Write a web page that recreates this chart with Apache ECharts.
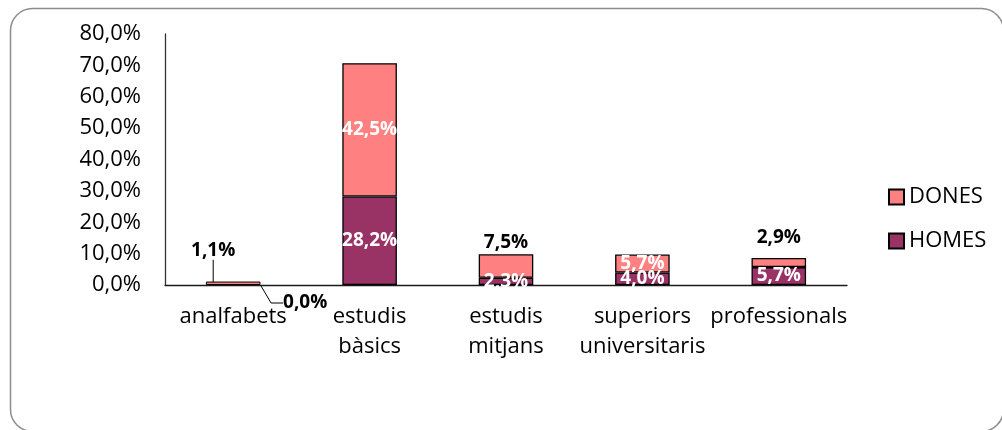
<!DOCTYPE html>
<html>
<head>
<meta charset="utf-8">
<script src="https://cdn.jsdelivr.net/npm/echarts@6/dist/echarts.min.js"></script>
<style>
html,body{margin:0;padding:0;background:#fff;}
#chart{width:1002px;height:430px;}
</style>
</head>
<body>
<div id="chart"></div>
<script>
var categories = ['analfabets', 'estudis\nbàsics', 'estudis\nmitjans', 'superiors\nuniversitaris', 'professionals'];
var homes = [0.0, 28.2, 2.3, 4.0, 5.7];
var dones = [1.1, 42.5, 7.5, 5.7, 2.9];
var yTicks = [0, 10, 20, 30, 40, 50, 60, 70, 80];
var seriesNames = ['HOMES', 'DONES'];

var FONT = '"Open Sans", sans-serif';
function pct(v) { return v.toFixed(1).replace('.', ',') + '%'; }

var chart = echarts.init(document.getElementById('chart'), null, {renderer: 'canvas'});

function labelFor(series, i) {
  if (i === 0) {
    return {show: true, position: 'inside', color: '#000'};
  }
  if (series === 'DONES' && (i === 2)) {
    return {show: true, position: 'top', color: '#000', distance: 2};
  }
  if (series === 'DONES' && (i === 4)) {
    return {show: true, position: 'top', color: '#000', distance: 11};
  }
  return {show: true, position: 'inside', color: '#fff'};
}

function makeData(name, arr) {
  return arr.map(function (v, i) {
    var d = {
      value: v,
      label: labelFor(name, i),
      labelLine: {show: i === 0}
    };
    if (v === 0) d.itemStyle = {borderWidth: 0};
    else if (v < 2) d.itemStyle = {borderWidth: 1};
    return d;
  });
}

var baseLabel = {
  fontFamily: FONT,
  fontWeight: 'bold',
  fontSize: 19,
  formatter: function (p) { return pct(p.value); }
};

chart.setOption({
  animation: false,
  backgroundColor: '#fff',
  graphic: [{
    type: 'rect',
    left: 8, top: 6,
    shape: {width: 993, height: 423, r: 22},
    style: {fill: 'none', stroke: '#8c8c8c', lineWidth: 1.5},
    silent: true
  }],
  grid: {left: 165, right: 155, top: 34, bottom: 145, containLabel: false},
  legend: {
    orient: 'vertical',
    left: 888,
    top: 186,
    data: ['DONES', 'HOMES'],
    itemWidth: 15,
    itemHeight: 15,
    itemGap: 22,
    padding: 0,
    icon: 'rect',
    textStyle: {fontFamily: FONT, fontSize: 22, color: '#000'}
  },
  xAxis: {
    type: 'category',
    data: categories,
    axisLine: {show: true, lineStyle: {color: '#1a1a1a', width: 1.3}},
    axisTick: {show: false},
    axisLabel: {
      interval: 0,
      margin: 17,
      fontFamily: FONT,
      fontSize: 22,
      lineHeight: 30,
      color: '#000'
    },
    splitLine: {show: false}
  },
  yAxis: {
    type: 'value',
    min: yTicks[0],
    max: yTicks[yTicks.length - 1],
    interval: 10,
    axisLine: {show: true, lineStyle: {color: '#333', width: 1.3}},
    axisTick: {show: false},
    splitLine: {show: false},
    axisLabel: {
      margin: 24,
      fontFamily: FONT,
      fontSize: 22,
      color: '#000',
      formatter: function (v) { return pct(v); }
    }
  },
  series: [
    {
      name: 'HOMES',
      type: 'bar',
      stack: 'total',
      barWidth: '40%',
      data: makeData('HOMES', homes),
      itemStyle: {color: '#993366', borderColor: '#000', borderWidth: 1.3},
      label: baseLabel,
      labelLine: {show: false, length2: 12, lineStyle: {color: '#000', width: 1}},
      labelLayout: function (p) {
        if (p.dataIndex === 0) return {dx: 72, dy: 18};
        return {};
      },
      z: 2
    },
    {
      name: 'DONES',
      type: 'bar',
      stack: 'total',
      barWidth: '40%',
      data: makeData('DONES', dones),
      itemStyle: {color: '#ff8080', borderColor: '#000', borderWidth: 1.3},
      label: baseLabel,
      labelLine: {show: false, lineStyle: {color: '#000', width: 1}},
      labelLayout: function (p) {
        if (p.dataIndex === 0) return {dx: -20, dy: -33};
        return {};
      },
      z: 2
    }
  ]
});
</script>
</body>
</html>
